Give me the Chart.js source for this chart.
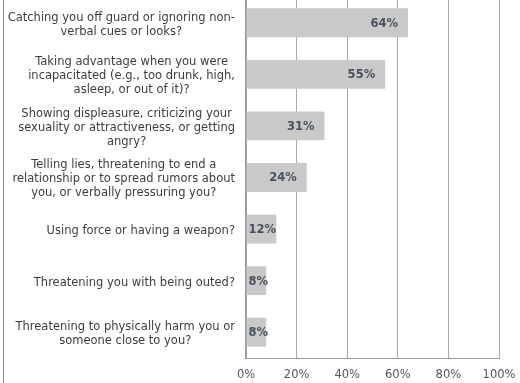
<!DOCTYPE html>
<html>
<head>
<meta charset="utf-8">
<script src="https://cdn.jsdelivr.net/npm/chart.js@4/dist/chart.umd.min.js"></script>
<style>
  html, body { margin: 0; padding: 0; background: #fff; }
  #wrap { position: relative; width: 520px; height: 383px; overflow: hidden; }
  #frame { position: absolute; left: 3px; top: 0; bottom: 0; border-left: 1px solid #8a8a8a; }
  #chart { position: absolute; left: 0; top: -3px; }
</style>
</head>
<body>
<div id="wrap">
  <div id="frame"></div>
  <canvas id="chart" width="520" height="386"></canvas>
</div>
<script>
// tactics used, share of respondents
const tactics = [
  ["Catching you off guard or ignoring non-", "verbal cues or looks?"],
  ["Taking advantage when you were", "incapacitated (e.g., too drunk, high,", "asleep, or out of it)?"],
  ["Showing displeasure, criticizing your", "sexuality or attractiveness, or getting", "angry?"],
  ["Telling lies, threatening to end a", "relationship or to spread rumors about", "you, or verbally pressuring you?"],
  ["Using force or having a weapon?"],
  ["Threatening you with being outed?"],
  ["Threatening to physically harm you or", "someone close to you?"]
]
const percents = [64, 55, 31, 24, 12, 8, 8]
const xTicks = [0, 20, 40, 60, 80, 100]

const FONT = "'DejaVu Sans', Verdana, sans-serif"

// draws the wrapped category text (each block centred on its widest line)
// and the bold value labels just inside the bar ends
const labelsPlugin = {
  id: "labels",
  afterDraw(chart) {
    const ctx = chart.ctx
    const y = chart.scales.y
    const right = y.right - 11
    const lineH = 14

    ctx.save()
    ctx.font = "11.5px " + FONT
    ctx.fillStyle = "#3d3d3d"
    ctx.textAlign = "center"
    ctx.textBaseline = "middle"
    tactics.forEach((lines, i) => {
      const py = y.getPixelForTick(i) + 2
      const maxW = Math.max(...lines.map(l => ctx.measureText(l).width))
      const cx = right - maxW / 2
      lines.forEach((l, j) => {
        ctx.fillText(l, cx, py + (j - (lines.length - 1) / 2) * lineH)
      })
    })

    ctx.font = "bold 11.5px " + FONT
    ctx.fillStyle = "#48525e"
    ctx.textAlign = "left"
    const meta = chart.getDatasetMeta(0)
    meta.data.forEach((bar, i) => {
      const text = percents[i] + "%"
      const w = ctx.measureText(text).width
      const x = Math.max(bar.x - 10 - w, bar.base + 2)
      ctx.fillText(text, x, bar.y + 1)
    })
    ctx.restore()
  }
}

new Chart(document.getElementById("chart"), {
  type: "bar",
  data: {
    labels: tactics,
    datasets: [{
      data: percents,
      backgroundColor: "#c9c9c9",
      borderWidth: 0,
      barPercentage: 0.56,
      categoryPercentage: 1
    }]
  },
  options: {
    indexAxis: "y",
    responsive: false,
    animation: false,
    layout: { padding: 0 },
    plugins: {
      legend: { display: false },
      tooltip: { enabled: false }
    },
    scales: {
      x: {
        min: 0,
        max: 100,
        afterBuildTicks: scale => {
          scale.ticks = xTicks.map(v => ({ value: v }))
        },
        afterFit: scale => {
          scale.height = 25
          scale.paddingLeft = 0
          scale.paddingRight = 21
        },
        grid: { color: "#a8a8a8", lineWidth: 1, drawTicks: false },
        border: { color: "#9a9a9a", width: 1 },
        ticks: {
          padding: 10,
          color: "#555",
          font: { family: FONT, size: 11.5 },
          callback: v => v + "%"
        }
      },
      y: {
        afterFit: scale => { scale.width = 246 },
        grid: { display: false },
        border: { display: true, color: "#999", width: 1.5 },
        ticks: { display: false }
      }
    }
  },
  plugins: [labelsPlugin]
})
</script>
</body>
</html>
